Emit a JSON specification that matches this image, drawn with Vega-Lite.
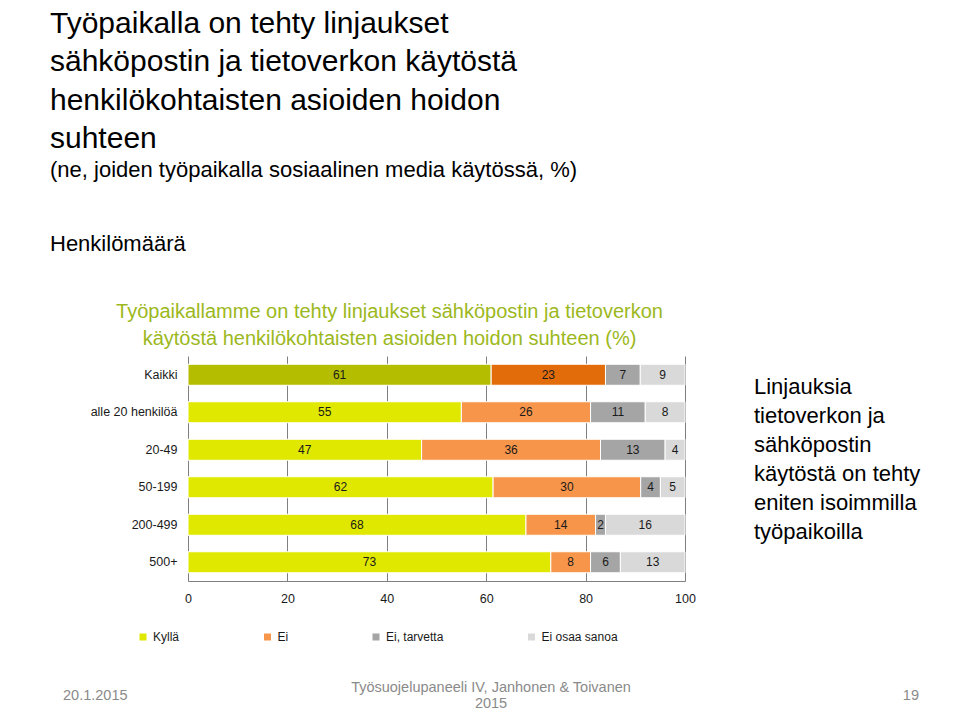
{
  "$schema": "https://vega.github.io/schema/vega-lite/v6.json",
  "background": "white",
  "padding": {"left": 50, "top": 8, "right": 5, "bottom": 2},
  "config": {
    "font": "Liberation Sans",
    "view": {"stroke": null},
    "legend": {"padding": 0}
  },
  "datasets": {
    "bars": [
      {"group": "Kaikki", "cat": "Kyllä", "value": 61},
      {"group": "Kaikki", "cat": "Ei", "value": 23},
      {"group": "Kaikki", "cat": "Ei, tarvetta", "value": 7},
      {"group": "Kaikki", "cat": "Ei osaa sanoa", "value": 9},
      {"group": "alle 20 henkilöä", "cat": "Kyllä", "value": 55},
      {"group": "alle 20 henkilöä", "cat": "Ei", "value": 26},
      {"group": "alle 20 henkilöä", "cat": "Ei, tarvetta", "value": 11},
      {"group": "alle 20 henkilöä", "cat": "Ei osaa sanoa", "value": 8},
      {"group": "20-49", "cat": "Kyllä", "value": 47},
      {"group": "20-49", "cat": "Ei", "value": 36},
      {"group": "20-49", "cat": "Ei, tarvetta", "value": 13},
      {"group": "20-49", "cat": "Ei osaa sanoa", "value": 4},
      {"group": "50-199", "cat": "Kyllä", "value": 62},
      {"group": "50-199", "cat": "Ei", "value": 30},
      {"group": "50-199", "cat": "Ei, tarvetta", "value": 4},
      {"group": "50-199", "cat": "Ei osaa sanoa", "value": 5},
      {"group": "200-499", "cat": "Kyllä", "value": 68},
      {"group": "200-499", "cat": "Ei", "value": 14},
      {"group": "200-499", "cat": "Ei, tarvetta", "value": 2},
      {"group": "200-499", "cat": "Ei osaa sanoa", "value": 16},
      {"group": "500+", "cat": "Kyllä", "value": 73},
      {"group": "500+", "cat": "Ei", "value": 8},
      {"group": "500+", "cat": "Ei, tarvetta", "value": 6},
      {"group": "500+", "cat": "Ei osaa sanoa", "value": 13}
    ],
    "note": [
      {"text": "Linjauksia\ntietoverkon ja\nsähköpostin\nkäytöstä on tehty\neniten isoimmilla\ntyöpaikoilla"}
    ],
    "footer": [
      {"slot": "date", "text": "20.1.2015"},
      {"slot": "source", "text": "Työsuojelupaneeli IV, Janhonen & Toivanen\n2015"},
      {"slot": "page", "text": "19"}
    ]
  },
  "title": {
    "text": ["Työpaikalla on tehty linjaukset", "sähköpostin ja tietoverkon käytöstä", "henkilökohtaisten asioiden hoidon", "suhteen"],
    "subtitle": ["(ne, joiden työpaikalla sosiaalinen media käytössä, %)", "Henkilömäärä"],
    "anchor": "start",
    "frame": "group",
    "dx": -138,
    "fontSize": 30,
    "lineHeight": 38.5,
    "fontWeight": "normal",
    "color": "#000000",
    "subtitleFontSize": 22,
    "subtitleLineHeight": 74,
    "subtitleColor": "#000000",
    "subtitlePadding": 6,
    "offset": 47
  },
  "columns": 2,
  "bounds": "flush",
  "align": "all",
  "spacing": {"row": 110, "column": 68},
  "concat": [
    {
      "width": 497,
      "height": 225,
      "title": {
        "text": ["Työpaikallamme on tehty linjaukset sähköpostin ja tietoverkon", "käytöstä henkilökohtaisten asioiden hoidon suhteen (%)"],
        "color": "#9cb820",
        "fontSize": 20,
        "lineHeight": 27,
        "fontWeight": "normal",
        "anchor": "middle",
        "frame": "group",
        "dx": -47,
        "offset": 7
      },
      "data": {"name": "bars"},
      "transform": [
        {"calculate": "indexof(['Kyllä','Ei','Ei, tarvetta','Ei osaa sanoa'], datum.cat)", "as": "ord"},
        {"stack": "value", "groupby": ["group"], "sort": [{"field": "ord", "order": "ascending"}], "offset": "normalize", "as": ["n0", "n1"]},
        {"calculate": "datum.n0 * 100", "as": "v0"},
        {"calculate": "datum.n1 * 100", "as": "v1"},
        {"calculate": "(datum.v0 + datum.v1) / 2", "as": "mid"}
      ],
      "encoding": {
        "y": {
          "field": "group",
          "type": "nominal",
          "sort": ["Kaikki", "alle 20 henkilöä", "20-49", "50-199", "200-499", "500+"],
          "scale": {"paddingInner": 0.44, "paddingOuter": 0.22},
          "axis": {"title": null, "domain": false, "ticks": false, "labelPadding": 11, "labelFontSize": 12.5, "labelColor": "#1a1a1a", "labelLimit": 200}
        }
      },
      "layer": [
        {
          "mark": {"type": "bar", "stroke": "white", "strokeWidth": 1},
          "encoding": {
            "x": {
              "field": "v0",
              "type": "quantitative",
              "scale": {"domain": [0, 100], "nice": false},
              "axis": {"title": null, "values": [0, 20, 40, 60, 80, 100], "grid": true, "gridColor": "#7f7f7f", "gridWidth": 1, "domainColor": "#7f7f7f", "ticks": false, "labelPadding": 11, "labelFontSize": 12.5, "labelColor": "#1a1a1a", "labelFlush": false}
            },
            "x2": {"field": "v1"},
            "color": {
              "field": "cat",
              "type": "nominal",
              "scale": {"domain": ["Kyllä", "Ei", "Ei, tarvetta", "Ei osaa sanoa"], "range": ["#e0e800", "#f7964a", "#a5a5a5", "#d9d9d9"]},
              "legend": {
                "title": null,
                "orient": "none",
                "direction": "horizontal",
                "columns": 4,
                "legendX": -51,
                "legendY": 275,
                "symbolType": "square",
                "symbolSize": 49,
                "symbolStrokeWidth": 0,
                "labelFontSize": 12,
                "labelColor": "#1a1a1a",
                "labelOffset": 4,
                "columnPadding": 81.5,
                "gridAlign": "none"
              },
              "condition": [
                {"test": "datum.group === 'Kaikki' && datum.cat === 'Kyllä'", "value": "#b5bd00"},
                {"test": "datum.group === 'Kaikki' && datum.cat === 'Ei'", "value": "#e36c0a"}
              ]
            }
          }
        },
        {
          "mark": {"type": "text", "fontSize": 12, "color": "#1a1a1a"},
          "encoding": {
            "x": {
              "field": "mid",
              "type": "quantitative",
              "axis": {"title": null, "values": [0, 20, 40, 60, 80, 100], "grid": true, "gridColor": "#7f7f7f", "gridWidth": 1, "domainColor": "#7f7f7f", "ticks": false, "labelPadding": 11, "labelFontSize": 12.5, "labelColor": "#1a1a1a", "labelFlush": false}
            },
            "text": {"field": "value", "type": "quantitative"}
          }
        }
      ]
    },
    {
      "width": 2,
      "height": 42,
      "data": {"name": "note"},
      "mark": {"type": "text", "align": "left", "baseline": "top", "fontSize": 22, "lineHeight": 29, "lineBreak": "\n", "color": "#000000"},
      "encoding": {"text": {"field": "text", "type": "nominal"}}
    },
    {
      "width": 497,
      "height": 10,
      "data": {"name": "footer"},
      "encoding": {
        "x": {"field": "slot", "type": "nominal", "scale": {"type": "point", "domain": ["date", "source", "page"], "range": [-125, 731], "padding": 0}, "axis": null},
        "text": {"field": "text", "type": "nominal"}
      },
      "layer": [
        {"transform": [{"filter": "datum.slot === 'date'"}], "mark": {"type": "text", "align": "left", "baseline": "middle", "fontSize": 14.5, "lineHeight": 16, "lineBreak": "\n", "color": "#8a8a8a"}},
        {"transform": [{"filter": "datum.slot === 'source'"}], "mark": {"type": "text", "align": "center", "baseline": "middle", "fontSize": 14.5, "lineHeight": 16, "lineBreak": "\n", "color": "#8a8a8a", "dy": -8}},
        {"transform": [{"filter": "datum.slot === 'page'"}], "mark": {"type": "text", "align": "right", "baseline": "middle", "fontSize": 14.5, "lineHeight": 16, "lineBreak": "\n", "color": "#8a8a8a"}}
      ]
    }
  ]
}
